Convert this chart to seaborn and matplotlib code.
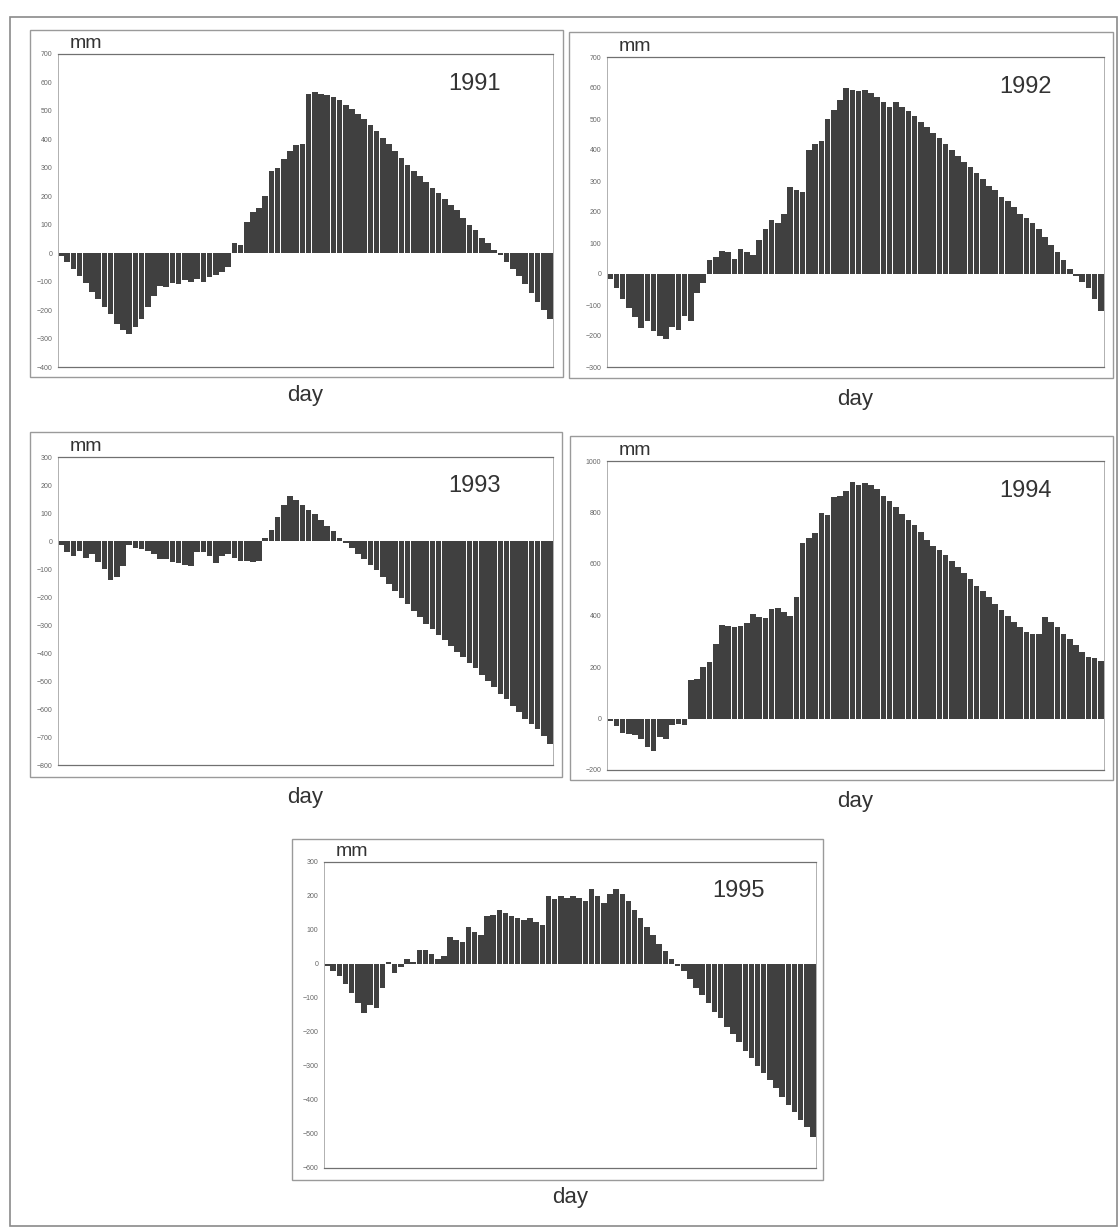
import numpy as np
import pandas as pd
import seaborn as sns
import matplotlib.pyplot as plt
from matplotlib.patches import Rectangle

# cumulative water balance (mm), ~80 steps per year
period = list(range(1, 81))

bal_1991 = [-10, -30, -55, -80, -105, -135, -160, -190, -215, -250,
            -270, -285, -260, -230, -190, -150, -115, -120, -105, -110,
            -95, -100, -90, -100, -85, -75, -65, -50, 35, 30,
            110, 145, 160, 200, 290, 300, 330, 360, 380, 385,
            560, 565, 560, 555, 550, 540, 520, 505, 490, 470,
            450, 430, 405, 385, 360, 335, 310, 290, 270, 250,
            230, 210, 190, 170, 150, 125, 100, 80, 55, 35,
            12, -5, -30, -55, -80, -110, -140, -170, -200, -230]

bal_1992 = [-15, -45, -80, -110, -140, -175, -150, -185, -200, -210,
            -170, -180, -135, -150, -60, -30, 45, 55, 75, 70,
            50, 80, 70, 60, 110, 145, 175, 165, 195, 280,
            270, 265, 400, 420, 430, 500, 530, 560, 600, 595,
            590, 595, 585, 570, 555, 540, 555, 540, 525, 510,
            490, 475, 455, 440, 420, 400, 380, 360, 345, 325,
            305, 285, 270, 250, 235, 215, 195, 180, 165, 145,
            120, 95, 70, 45, 15, -5, -25, -45, -80, -120]

bal_1993 = [-15, -40, -55, -35, -60, -45, -75, -100, -140, -130,
            -90, -15, -25, -30, -35, -45, -65, -65, -75, -80,
            -85, -90, -40, -40, -55, -80, -55, -45, -60, -70,
            -70, -75, -70, 12, 40, 85, 130, 160, 145, 130,
            110, 95, 75, 55, 35, 10, -8, -25, -45, -65,
            -85, -105, -130, -155, -180, -205, -225, -250, -272, -295,
            -315, -335, -355, -375, -395, -415, -435, -455, -480, -500,
            -520, -545, -565, -590, -610, -635, -655, -670, -695, -725]

bal_1994 = [-10, -30, -55, -60, -65, -80, -110, -125, -70, -80,
            -25, -20, -25, 150, 155, 200, 220, 290, 365, 360,
            355, 360, 370, 405, 395, 390, 425, 430, 415, 400,
            470, 680, 700, 720, 800, 790, 860, 865, 885, 920,
            905, 915, 905, 890, 865, 845, 820, 795, 770, 750,
            725, 695, 670, 655, 635, 610, 590, 565, 540, 515,
            495, 470, 445, 420, 400, 375, 355, 335, 330, 330,
            395, 375, 355, 330, 310, 285, 260, 240, 235, 225]

bal_1995 = [-5, -20, -35, -60, -85, -115, -145, -120, -130, -70,
            5, -25, -10, 15, 5, 40, 40, 30, 15, 25,
            80, 70, 65, 110, 95, 85, 140, 145, 160, 150,
            140, 135, 130, 135, 125, 115, 200, 190, 200, 195,
            200, 195, 185, 220, 200, 180, 205, 220, 205, 185,
            160, 135, 110, 85, 60, 38, 15, -5, -20, -45,
            -70, -90, -115, -140, -160, -185, -205, -230, -255, -275,
            -300, -320, -340, -365, -390, -415, -435, -460, -480, -510]

years = ['1991', '1992', '1993', '1994', '1995']
series = [bal_1991, bal_1992, bal_1993, bal_1994, bal_1995]
y_ranges = [(-400, 700, 100), (-300, 700, 100), (-800, 300, 100),
            (-200, 1000, 200), (-600, 300, 100)]

sns.set_style('white')
plt.rcParams['font.family'] = ['Liberation Sans', 'DejaVu Sans']

W, H = 1118, 1228
fig = plt.figure(figsize=(W / 100, H / 100), dpi=100)

# pixel boxes: inner plot (left, top, right, bottom) and outer frame
inner = [(58, 54, 553, 367), (607, 57, 1104, 367), (58, 457, 553, 765),
         (607, 461, 1104, 770), (324, 862, 816, 1168)]
outer = [(30, 30, 563, 377), (569, 32, 1113, 378), (30, 432, 562, 777),
         (570, 436, 1113, 780), (292, 839, 823, 1180)]
day_y = [395, 399, 798, 802, 1198]


def fx(px):
    return px / W


def fy(py):
    return 1 - py / H


# big border around the whole figure
fig.patches.append(Rectangle((fx(10), fy(1226)), fx(1117) - fx(10), fy(17) - fy(1226),
                             transform=fig.transFigure, fill=False,
                             edgecolor='#8a8a8a', linewidth=1.2))

for yr, vals, (lo, hi, step), (l, t, r, b), (ol, ot, orr, ob), dy in zip(
        years, series, y_ranges, inner, outer, day_y):
    fig.patches.append(Rectangle((fx(ol), fy(ob)), fx(orr) - fx(ol), fy(ot) - fy(ob),
                                 transform=fig.transFigure, fill=False,
                                 edgecolor='#9a9a9a', linewidth=1.0))
    ax = fig.add_axes([fx(l), fy(b), fx(r) - fx(l), fy(t) - fy(b)])
    df = pd.DataFrame({'period': period, 'mm': vals})
    sns.barplot(data=df, x='period', y='mm', color='#404040', saturation=1,
                width=0.9, linewidth=0, ax=ax)
    ax.set_xlim(-0.5, len(period) - 0.5)
    ax.set_ylim(lo, hi)
    ax.set_yticks(np.arange(lo, hi + 1, step))
    ax.tick_params(axis='y', labelsize=5, colors='#666666', length=2, width=0.5, pad=2)
    ax.set_xticks([])
    ax.set_xlabel('')
    ax.set_ylabel('')
    for side in ['left', 'right']:
        ax.spines[side].set_color('#b0b0b0')
        ax.spines[side].set_linewidth(0.7)
    for side in ['top', 'bottom']:
        ax.spines[side].set_color('#707070')
        ax.spines[side].set_linewidth(0.9)
    ax.text(0.895, 0.94, yr, transform=ax.transAxes, ha='right', va='top',
            fontsize=17, color='#333333')
    fig.text(fx(l + 12), fy(t - 2), 'mm', ha='left', va='bottom',
             fontsize=14, color='#333333')
    fig.text(fx((l + r) / 2), fy(dy), 'day', ha='center', va='center',
             fontsize=16, color='#333333')

fig.savefig('out.png', dpi=100)
